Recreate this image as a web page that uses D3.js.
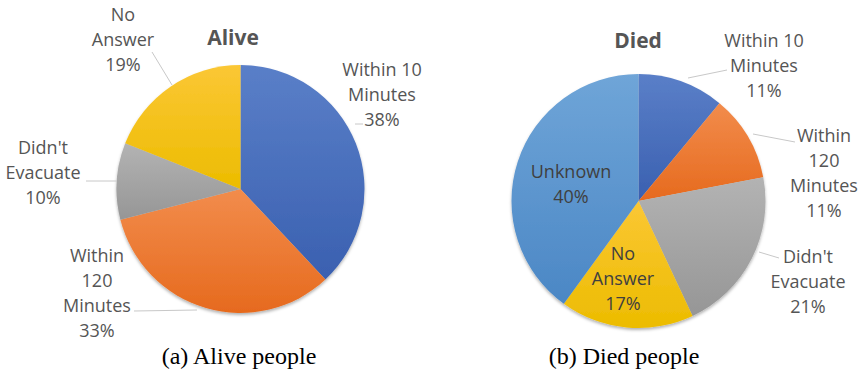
<!DOCTYPE html>
<html>
<head>
<meta charset="utf-8">
<script src="https://cdn.jsdelivr.net/npm/d3@7"></script>
<style>
  body { margin: 0; background: #fff; }
  svg { display: block; }
</style>
</head>
<body>
<svg id="chart" width="862" height="373"></svg>
<script>
// Data
const aliveCategories = ["Within 10 Minutes", "Within 120 Minutes", "Didn't Evacuate", "No Answer"];
const aliveValues = [38, 33, 10, 19];
const diedCategories = ["Within 10 Minutes", "Within 120 Minutes", "Didn't Evacuate", "No Answer", "Unknown"];
const diedValues = [11, 11, 21, 17, 40];

const colours = {
    "Within 10 Minutes": ["#5a7fc8", "#3a60b0"],
    "Within 120 Minutes": ["#f28c4c", "#e66a1e"],
    "Didn't Evacuate": ["#b3b3b3", "#969696"],
    "No Answer": ["#fbc735", "#ecbc00"],
    "Unknown": ["#6fa5d8", "#4b87c5"]
};

const svg = d3.select("#chart");
const defs = svg.append("defs");

// soft shadow like the office chart
const shadow = defs.append("filter").attr("id", "shadow")
    .attr("x", "-10%").attr("y", "-10%").attr("width", "120%").attr("height", "125%");
shadow.append("feDropShadow")
    .attr("dx", 0).attr("dy", 2).attr("stdDeviation", 1.5)
    .attr("flood-color", "#000").attr("flood-opacity", 0.3);

Object.entries(colours).forEach(([k, c], i) => {
    const g = defs.append("linearGradient").attr("id", "grad" + i)
        .attr("x1", 0).attr("y1", 0).attr("x2", 0).attr("y2", 1);
    g.append("stop").attr("offset", "0%").attr("stop-color", c[0]);
    g.append("stop").attr("offset", "100%").attr("stop-color", c[1]);
});
const gradId = (k) => "url(#grad" + Object.keys(colours).indexOf(k) + ")";

const font = "'Open Sans', 'DejaVu Sans', sans-serif";

// label layouts: x, first baseline, lines, leader line points
const aliveLabels = [
    { x: 382, y: 76, lines: ["Within 10", "Minutes", "38%"], leader: [[355, 124], [363, 124]] },
    { x: 97, y: 262, lines: ["Within", "120", "Minutes", "33%"], leader: [[134, 311], [197, 310]] },
    { x: 43, y: 154, lines: ["Didn't", "Evacuate", "10%"], leader: [[86, 181], [117, 181]] },
    { x: 123, y: 21, lines: ["No", "Answer", "19%"], leader: [[152, 52], [172, 85]] }
];
const diedLabels = [
    { x: 764, y: 47, lines: ["Within 10", "Minutes", "11%"], leader: [[727, 70], [688, 78]] },
    { x: 824, y: 142, lines: ["Within", "120", "Minutes", "11%"], leader: [[795, 142], [753, 134]] },
    { x: 808, y: 263, lines: ["Didn't", "Evacuate", "21%"], leader: [[779, 258], [759, 252]] },
    { x: 623, y: 260, lines: ["No", "Answer", "17%"], inside: true },
    { x: 571, y: 178, lines: ["Unknown", "40%"], inside: true }
];

function drawPie(cx, cy, r, cats, vals, labels, title, titleX, titleY, caption, capX) {
    const g = svg.append("g");
    const pie = d3.pie().sort(null).value((d, i) => vals[i]);
    const arc = d3.arc().innerRadius(0).outerRadius(r);

    g.append("g")
        .attr("transform", `translate(${cx}, ${cy})`)
        .attr("filter", "url(#shadow)")
        .selectAll("path")
        .data(pie(cats))
        .join("path")
        .attr("d", arc)
        .attr("fill", (d) => gradId(d.data));

    // leader lines
    labels.forEach((l) => {
        if (!l.leader) return;
        g.append("path")
            .attr("d", d3.line()(l.leader))
            .attr("fill", "none")
            .attr("stroke", "#c8c8c8")
            .attr("stroke-width", 1);
    });

    // data labels
    labels.forEach((l) => {
        const t = g.append("text")
            .attr("text-anchor", "middle")
            .attr("font-family", font)
            .attr("font-size", 18)
            .attr("fill", l.inside ? "#3f3f3f" : "#555");
        l.lines.forEach((s, i) => {
            t.append("tspan").attr("x", l.x).attr("y", l.y + i * 25).text(s);
        });
    });

    g.append("text")
        .attr("x", titleX).attr("y", titleY)
        .attr("text-anchor", "middle")
        .attr("font-family", font)
        .attr("font-weight", "bold")
        .attr("font-size", 21)
        .attr("fill", "#555")
        .text(title);

    g.append("text")
        .attr("x", capX).attr("y", 364)
        .attr("text-anchor", "middle")
        .attr("font-family", "'Liberation Serif', 'Times New Roman', serif")
        .attr("font-size", 24)
        .attr("fill", "#000")
        .text(caption);
}

drawPie(240.5, 189, 124, aliveCategories, aliveValues, aliveLabels, "Alive", 233, 45, "(a) Alive people", 239);
drawPie(638.5, 201, 127, diedCategories, diedValues, diedLabels, "Died", 638, 48, "(b) Died people", 624);
</script>
</body>
</html>
